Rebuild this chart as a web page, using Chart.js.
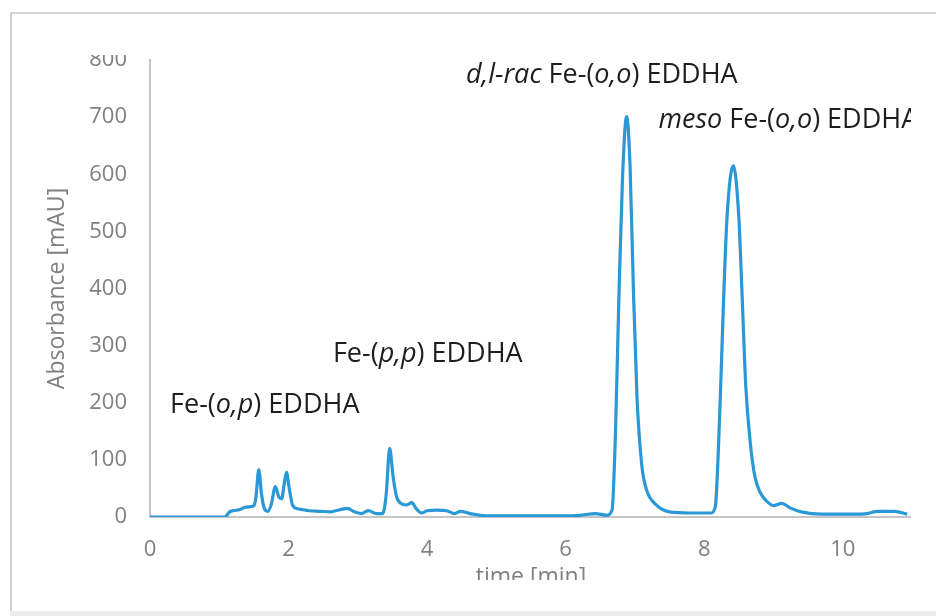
<!DOCTYPE html>
<html>
<head>
<meta charset="utf-8">
<script src="https://cdn.jsdelivr.net/npm/chart.js@4"></script>
<style>
  body { margin: 0; background: #fff; width: 936px; height: 616px; overflow: hidden; position: relative; }
  #frame { position: absolute; left: 10px; top: 12px; width: 926px; height: 599px;
           border-left: 2px solid #cfcfcf; border-top: 2px solid #d6d6d6; box-sizing: border-box; }
  #band { position: absolute; left: 10px; top: 611px; width: 926px; height: 5px; background: #ececec; }
  #clip { position: absolute; left: 12px; top: 55px; width: 899px; height: 525px; overflow: hidden; }
  #chart { position: absolute; left: 0; top: -20px; }
</style>
</head>
<body>
<div id="frame"></div>
<div id="band"></div>
<div id="clip"><canvas id="chart" width="900" height="580"></canvas></div>
<script>
// retention time [min]
var time = [0, 0.5, 1.0, 1.08, 1.15, 1.2, 1.3, 1.37, 1.45, 1.5, 1.53, 1.57, 1.61, 1.65, 1.7, 1.75, 1.81, 1.86, 1.9, 1.94,
  1.97, 2.01, 2.06, 2.12, 2.2, 2.3, 2.45, 2.6, 2.75, 2.85, 2.95, 3.05, 3.15, 3.27, 3.36, 3.41, 3.46, 3.51, 3.56, 3.62,
  3.7, 3.78, 3.84, 3.92, 4.0, 4.14, 4.28, 4.4, 4.48, 4.62, 4.77, 5.0, 5.5, 6.0, 6.2, 6.43, 6.59, 6.67, 6.72, 6.77,
  6.82, 6.88, 6.93, 6.98, 7.03, 7.1, 7.17, 7.3, 7.5, 7.8, 8.1, 8.16, 8.23, 8.28, 8.33, 8.42, 8.5, 8.55, 8.6, 8.67,
  8.73, 8.8, 8.9, 9.0, 9.12, 9.24, 9.4, 9.7, 10.0, 10.2, 10.35, 10.5, 10.75, 10.93];
// absorbance [mAU]
var absorbance = [0, 0, 0, 0, 9, 11, 13, 17, 18, 20, 35, 83, 40, 15, 10, 22, 53, 35, 32, 60,
  78, 50, 20, 15, 13, 11, 10, 9, 13, 15, 9, 6, 11, 6, 6, 40, 120, 70, 35, 24,
  21, 25, 15, 7, 11, 12, 11, 6, 10, 6, 3, 2, 2, 2, 3, 6, 3, 12, 150, 390,
  590, 701, 615, 390, 210, 90, 47, 22, 9, 7, 7, 18, 200, 380, 525, 615, 525, 380, 230, 125,
  72, 45, 28, 20, 24, 16, 9, 5, 5, 5, 6, 10, 10, 5];
var xTicks = [0, 2, 4, 6, 8, 10];
var yTicks = [0, 100, 200, 300, 400, 500, 600, 700, 800];

// peak labels: [text, italic?] pieces
var peakLabels = [
  { at: [0.29, 196], parts: [["Fe-(", 0], ["o,p", 1], [") EDDHA", 0]] },
  { at: [2.64, 284], parts: [["Fe-(", 0], ["p,p", 1], [") EDDHA", 0]] },
  { at: [4.56, 774], parts: [["d,l-rac", 1], [" Fe-(", 0], ["o,o", 1], [") EDDHA", 0]] },
  { at: [7.34, 695], parts: [["meso", 1], [" Fe-(", 0], ["o,o", 1], [") EDDHA", 0]] }
];

var points = time.map(function (t, i) { return { x: t, y: absorbance[i] }; });

var labelPlugin = {
  id: 'peakLabels',
  afterDatasetsDraw: function (chart) {
    var ctx = chart.ctx, xs = chart.scales.x, ys = chart.scales.y;
    ctx.save();
    ctx.fillStyle = '#1e1e1e';
    ctx.textBaseline = 'middle';
    ctx.textAlign = 'left';
    peakLabels.forEach(function (lab) {
      var px = xs.getPixelForValue(lab.at[0]);
      var py = ys.getPixelForValue(lab.at[1]);
      lab.parts.forEach(function (p) {
        ctx.font = (p[1] ? 'italic ' : '') + '27px "Open Sans"';
        ctx.fillText(p[0], px, py);
        px += ctx.measureText(p[0]).width;
      });
    });
    ctx.restore();
  }
};

var tickFont = { family: 'Open Sans', size: 22 };
var titleFont = { family: 'Open Sans', size: 23 };
var grey = '#7f7f7f';

new Chart(document.getElementById('chart'), {
  type: 'line',
  data: {
    datasets: [{
      data: points,
      borderColor: '#2a98d6',
      borderWidth: 3.2,
      pointRadius: 0,
      cubicInterpolationMode: 'monotone',
      fill: false
    }]
  },
  options: {
    responsive: false,
    animation: false,
    devicePixelRatio: 1,
    layout: { padding: { top: 25, bottom: 24, left: 0, right: 0 } },
    plugins: { legend: { display: false }, tooltip: { enabled: false } },
    scales: {
      x: {
        type: 'linear',
        min: 0, max: 11,
        grid: { display: false, drawTicks: false },
        border: { display: true, color: '#c4c4c4', width: 2 },
        afterBuildTicks: function (s) { s.ticks = xTicks.map(function (v) { return { value: v }; }); },
        ticks: { font: tickFont, color: grey, padding: 20, maxRotation: 0 },
        title: { display: true, text: 'time [min]', font: titleFont, color: grey, padding: { top: 0, bottom: 0 } },
        afterFit: function (s) { s.height = 74; s.paddingLeft = 0; s.paddingRight = 0; }
      },
      y: {
        min: 0, max: 800,
        grid: { display: false, drawTicks: false },
        border: { display: true, color: '#c4c4c4', width: 2 },
        afterBuildTicks: function (s) { s.ticks = yTicks.map(function (v) { return { value: v }; }); },
        ticks: { font: tickFont, color: grey, padding: 23 },
        title: { display: true, text: 'Absorbance [mAU]', font: titleFont, color: grey, padding: { top: 32, bottom: 0 } },
        afterFit: function (s) { s.width = 138; s.paddingTop = 0; s.paddingBottom = 0; }
      }
    }
  },
  plugins: [labelPlugin]
});
</script>
</body>
</html>
